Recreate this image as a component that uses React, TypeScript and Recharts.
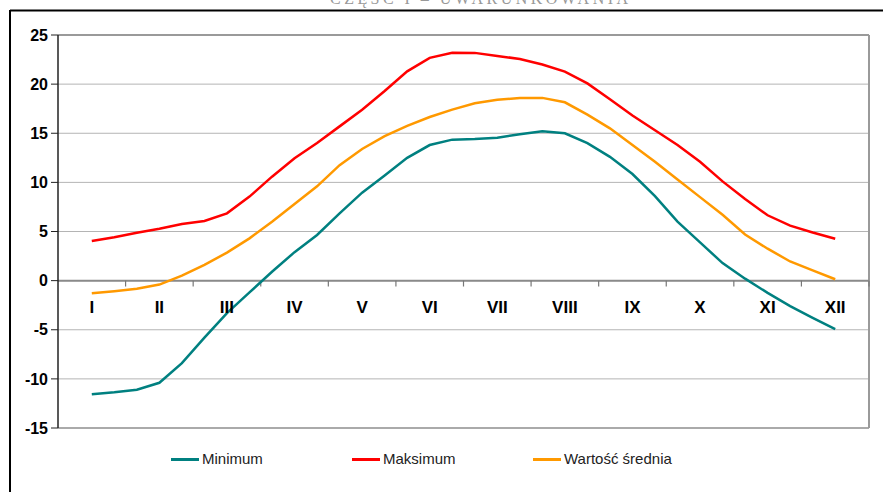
import React from 'react';
import { LineChart, Line, XAxis, YAxis, CartesianGrid, ReferenceLine, ReferenceDot } from 'recharts';

// Month labels (category axis)
const months = ['I', 'II', 'III', 'IV', 'V', 'VI', 'VII', 'VIII', 'IX', 'X', 'XI', 'XII'];
// Readings every third of a month, from the middle of January to the middle of December
const pointsPerMonth = 3;
const minimum = [
  -11.56, -11.36, -11.1, -10.4, -8.4, -5.8, -3.3, -1.2, 0.9, 2.9, 4.65, 6.85,
  8.95, 10.7, 12.5, 13.8, 14.35, 14.42, 14.55, 14.9, 15.2, 15.0, 14.0, 12.6,
  10.85, 8.6, 6.0, 3.9, 1.78, 0.2, -1.25, -2.6, -3.8, -4.94,
];
const maksimum = [
  4.04, 4.41, 4.88, 5.29, 5.77, 6.07, 6.85, 8.55, 10.58, 12.45, 14.0, 15.7,
  17.4, 19.3, 21.3, 22.67, 23.2, 23.18, 22.87, 22.56, 22.0, 21.27, 20.07, 18.45,
  16.8, 15.3, 13.8, 12.1, 10.1, 8.3, 6.65, 5.6, 4.9, 4.27,
];
const srednia = [
  -1.28, -1.07, -0.83, -0.4, 0.5, 1.6, 2.85, 4.3, 6.0, 7.8, 9.6, 11.75,
  13.4, 14.7, 15.75, 16.65, 17.4, 18.05, 18.4, 18.6, 18.6, 18.15, 16.9, 15.5,
  13.8, 12.1, 10.3, 8.5, 6.7, 4.7, 3.25, 1.95, 1.05, 0.14,
];
const yTicks = [-15, -10, -5, 0, 5, 10, 15, 20, 25];

const seriesNames = ['Minimum', 'Maksimum', 'Wartość średnia'];
const seriesColors = ['#008080', '#FF0000', '#FF9900'];
const seriesKeys = ['min', 'max', 'avg'];

const data = minimum.map((v, i) => ({
  t: 1 + i / pointsPerMonth,
  min: v,
  max: maksimum[i],
  avg: srednia[i],
}));

const FONT = '"Liberation Sans", Arial, sans-serif';

export default function App() {
  return (
    <div style={{ position: 'absolute', left: 0, top: 0, width: 883, height: 492, background: '#fff', overflow: 'hidden' }}>
      <svg width={883} height={492} style={{ position: 'absolute', left: 0, top: 0 }}>
        <text x={479} y={4} textAnchor="middle" fontFamily='"Liberation Serif", serif' fontSize={16} fill="#999" textLength={298} lengthAdjust="spacing">
          CZĘŚĆ I – UWARUNKOWANIA
        </text>
        <line x1={10} y1={10.5} x2={883} y2={10.5} stroke="#000" strokeWidth={2} />
        <line x1={10} y1={10} x2={10} y2={492} stroke="#000" strokeWidth={2} />
      </svg>
      <div style={{ position: 'absolute', left: 0, top: 0 }}>
        <LineChart width={883} height={492} data={data} margin={{ top: 35, right: 14, left: 0, bottom: 64 }}>
          <CartesianGrid vertical={false} stroke="#b4b4b4" />
          <XAxis type="number" dataKey="t" domain={[0.5, 12.5]} hide />
          <YAxis
            type="number"
            domain={[-15, 25]}
            ticks={yTicks}
            width={58}
            tickSize={7}
            tickMargin={3}
            axisLine={{ stroke: '#222', strokeWidth: 1.5 }}
            tickLine={{ stroke: '#222' }}
            tick={{ fill: '#000', fontSize: 16, fontWeight: 'bold', fontFamily: FONT }}
          />
          <ReferenceLine y={25} stroke="#9a9a9a" strokeWidth={2} />
          <ReferenceLine y={-15} stroke="#9a9a9a" strokeWidth={1.5} />
          <ReferenceLine x={12.5} stroke="#9a9a9a" strokeWidth={2} />
          <ReferenceLine y={0} stroke="#8a8a8a" strokeWidth={2} />
          {months.map((m, i) => (
            <ReferenceLine
              key={'tk' + m}
              segment={[{ x: i + 1.5, y: 0 }, { x: i + 1.5, y: -0.6 }]}
              stroke="#777"
              strokeWidth={1.2}
            />
          ))}
          {months.map((m, i) => (
            <ReferenceDot
              key={'lb' + m}
              x={i + 1}
              y={0}
              r={0}
              fill="none"
              stroke="none"
              label={{ value: m, position: 'bottom', offset: 20, fill: '#000', fontSize: 17, fontWeight: 'bold', fontFamily: FONT }}
            />
          ))}
          {seriesKeys.map((k, i) => (
            <Line
              key={k}
              type="linear"
              dataKey={k}
              name={seriesNames[i]}
              stroke={seriesColors[i]}
              strokeWidth={2.5}
              dot={false}
              isAnimationActive={false}
            />
          ))}
        </LineChart>
      </div>
      <div style={{ position: 'absolute', left: 171, top: 450, display: 'flex', fontFamily: FONT, fontSize: 15, color: '#222', lineHeight: '18px' }}>
        {seriesNames.map((n, i) => (
          <div key={n} style={{ width: 181, display: 'flex', alignItems: 'center' }}>
            <div style={{ width: 28, height: 3, background: seriesColors[i], marginRight: 3 }} />
            <span>{n}</span>
          </div>
        ))}
      </div>
    </div>
  );
}
